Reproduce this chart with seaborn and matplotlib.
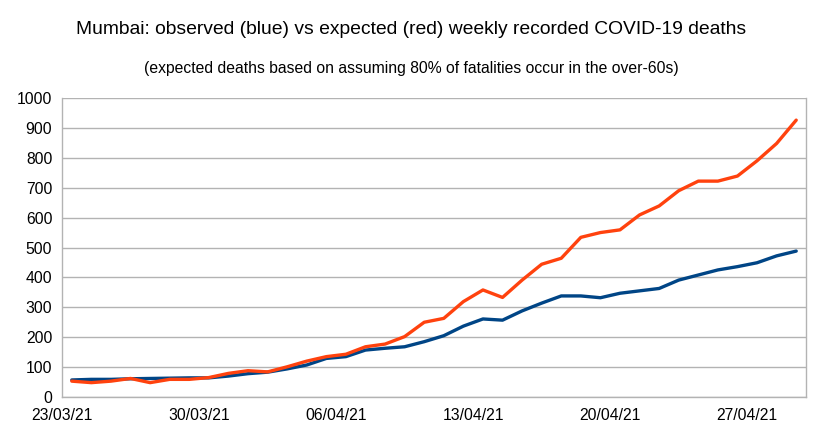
import matplotlib
matplotlib.use("Agg")
import matplotlib.pyplot as plt
import seaborn as sns
import numpy as np
import pandas as pd

dates = pd.date_range("2021-03-23", "2021-04-29", freq="D").strftime("%d/%m/%y").tolist()
observed = [57, 59, 59, 61, 62, 63, 64, 64, 70, 78, 83, 94, 107, 129, 135, 157, 163, 168, 185, 205,
            237, 261, 257, 288, 314, 338, 338, 332, 347, 355, 363, 391, 408, 425, 436, 449, 472, 488]
expected = [53, 48, 53, 62, 48, 59, 59, 65, 79, 88, 84, 101, 120, 135, 143, 168, 177, 202, 250, 263,
            319, 358, 333, 391, 444, 464, 534, 550, 559, 609, 639, 690, 722, 722, 739, 790, 848, 926]

df = pd.DataFrame({"pos": np.arange(len(dates)) + 0.5, "date": dates,
                   "observed": observed, "expected": expected})

sns.set_theme(style="white")
plt.rcParams["font.family"] = ["Liberation Sans", "DejaVu Sans"]

fig = plt.figure(figsize=(8.23, 4.32), dpi=100)
ax = fig.add_axes([62 / 823, 35 / 432, (806 - 62) / 823, (397 - 98) / 432])

sns.lineplot(data=df, x="pos", y="observed", color="#004586", linewidth=2.4, ax=ax)
sns.lineplot(data=df, x="pos", y="expected", color="#ff420e", linewidth=2.4, ax=ax)

ax.set_xlim(0, len(dates))
ax.set_ylim(0, 1000)
ax.set_yticks(range(0, 1001, 100))
ticks = list(range(0, len(dates), 7))
ax.set_xticks(ticks)
ax.set_xticklabels([dates[t] for t in ticks])
ax.set_xlabel("")
ax.set_ylabel("")
ax.yaxis.grid(True, color="#b3b3b3", linewidth=1)
ax.set_axisbelow(True)
for s in ["left", "bottom", "right"]:
    ax.spines[s].set_color("#b3b3b3")
    ax.spines[s].set_linewidth(1)
ax.spines["top"].set_visible(False)
ax.tick_params(axis="both", which="major", length=5, width=1, color="#b3b3b3",
               labelsize=11.3, labelcolor="black", direction="out", pad=2)
ax.tick_params(axis="x", pad=3)

fig.text(0.5, 1 - 30 / 432, "Mumbai: observed (blue) vs expected (red) weekly recorded COVID-19 deaths",
         ha="center", va="center", fontsize=13.9, color="black")
fig.text(0.5, 1 - 68 / 432, "(expected deaths based on assuming 80% of fatalities occur in the over-60s)",
         ha="center", va="center", fontsize=11.3, color="black")

fig.savefig("out.png", dpi=100)
